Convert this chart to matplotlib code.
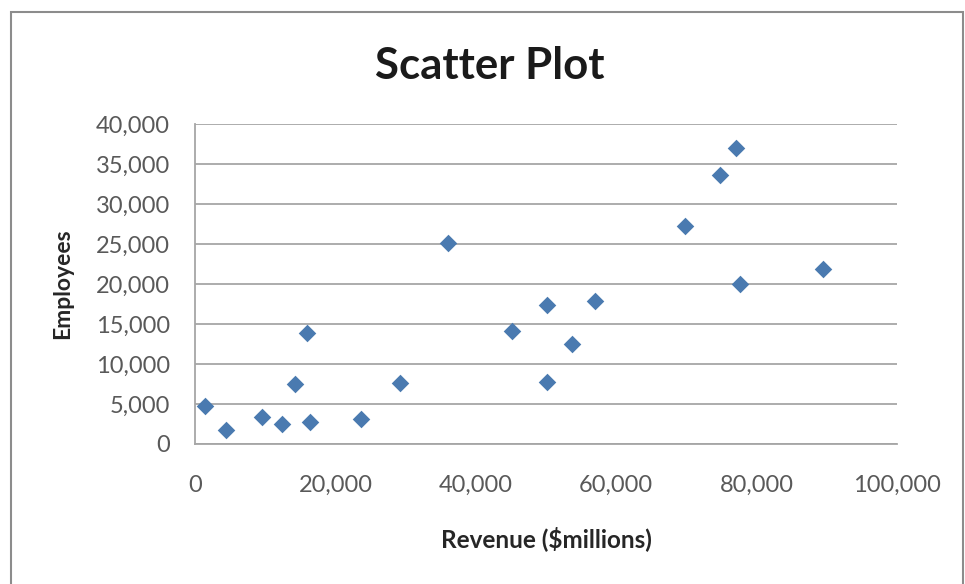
import matplotlib.pyplot as plt
from matplotlib.patches import Rectangle
from matplotlib.ticker import FuncFormatter

# revenue ($millions) and employees
revenue = [1400, 4400, 9500, 12400, 14300, 16000, 16400, 23600, 29200, 36100,
           45100, 50100, 50100, 53700, 57000, 69800, 74800, 77000, 77600, 89400]
employees = [4800, 1750, 3400, 2450, 7500, 13850, 2800, 3100, 7600, 25100,
             14150, 17400, 7800, 12450, 17850, 27300, 33650, 37050, 20000, 21850]

x_ticks = [0, 20000, 40000, 60000, 80000, 100000]
y_ticks = [0, 5000, 10000, 15000, 20000, 25000, 30000, 35000, 40000]

fig = plt.figure(figsize=(9.65, 5.84), dpi=100)
fig.patch.set_facecolor("white")

# outer chart frame
fig.patches.append(Rectangle((11 / 965, -0.05), 952 / 965, 1 - 12 / 584 + 0.05,
                             transform=fig.transFigure, fill=False,
                             edgecolor="#8c8c8c", linewidth=1.5))

ax = fig.add_axes([195 / 965, 1 - 444 / 584, 702 / 965, 320 / 584])

ax.scatter(revenue, employees, marker="D", s=80, color="#4a7ab0",
           linewidths=0, zorder=3)

ax.set_xlim(0, 100000)
ax.set_ylim(0, 40000)
ax.set_xticks(x_ticks)
ax.set_yticks(y_ticks)
fmt = FuncFormatter(lambda v, p: f"{int(v):,}")
ax.xaxis.set_major_formatter(fmt)
ax.yaxis.set_major_formatter(fmt)

ax.grid(axis="y", color="#a6a6a6", linewidth=1.3, zorder=0)
ax.set_axisbelow(True)
for side in ["top", "right"]:
    ax.spines[side].set_visible(False)
for side in ["left", "bottom"]:
    ax.spines[side].set_color("#a6a6a6")
    ax.spines[side].set_linewidth(1.3)

ax.tick_params(axis="both", length=0, labelsize=17, labelcolor="#595959")
ax.tick_params(axis="y", pad=18)
ax.tick_params(axis="x", pad=22)
for lbl in ax.get_xticklabels() + ax.get_yticklabels():
    lbl.set_family("Lato")

ax.set_xlabel("Revenue ($millions)", fontsize=17.5, fontweight="bold",
              family="Lato", color="#262626", labelpad=22)
ax.set_ylabel("Employees", fontsize=16.5, fontweight="bold",
              family="Lato", color="#262626", labelpad=16)

fig.text(490 / 965, 1 - 66 / 584, "Scatter Plot", ha="center", va="center",
         fontsize=31.5, fontweight="bold", family="Lato", color="#1a1a1a")

fig.savefig("out.png", dpi=100)
